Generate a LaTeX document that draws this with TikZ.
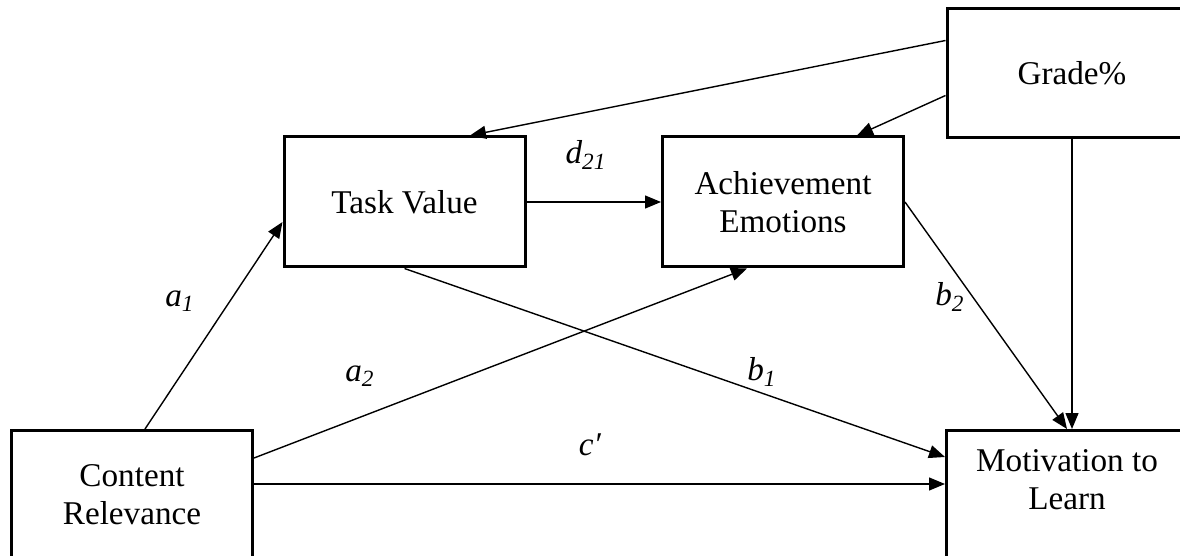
\documentclass[tikz,border=0pt]{standalone}
\usepackage{fontspec}
\setmainfont{Liberation Serif}
\usetikzlibrary{arrows.meta}
\newcommand{\pcoef}[2]{\textit{#1}\textsubscript{\textit{#2}}}

\begin{document}
\begin{tikzpicture}[x=0.5pt,y=-0.5pt,
  font=\fontsize{16.6}{18.8}\selectfont,
  box/.style={draw, line width=1.5pt, minimum width=120.5pt, minimum height=65pt, align=center},
  openbox/.style={box, anchor=north, text depth=60pt},
  link/.style={draw, line width=0.7pt, -{Triangle[length=8pt,width=6.5pt]}}]
  \useasboundingbox (0,0) rectangle (1180,556);
  \node[box] (tv) at (404.5,202) {Task Value};
  \node[box] (ae) at (783,202) {Achievement\\Emotions};
  \node[box, minimum width=125pt, minimum height=64.5pt] (gr) at (1072,73.5) {Grade\%};
  \node[openbox, inner ysep=17pt] (cr) at (132,429) {Content\\Relevance};
  \node[openbox, inner ysep=9.5pt] (mot) at (1067,429) {Motivation to\\Learn};
  \draw[link] ([xshift=6.5pt]cr.north) -- ([yshift=-10pt]tv.west);
  \draw[link] ([yshift=-14.5pt]cr.north east) -- ([xshift=-18pt]ae.south);
  \draw[link] ([yshift=-27.5pt]cr.north east) -- ([yshift=-27.5pt]mot.north west);
  \draw[link] (tv.east) -- (ae.west);
  \draw[link] (tv.south) -- ([yshift=-14pt]mot.north west);
  \draw[link] (ae.east) -- (mot.north);
  \draw[link] ([yshift=-16.5pt]gr.north west) -- ([xshift=32.75pt]tv.north);
  \draw[link] ([yshift=-44pt]gr.north west) -- ([xshift=37pt]ae.north);
  \draw[link] (gr.south) -- (gr.south |- mot.north);
  \node (la1) at (180,301) {\pcoef{a}{1}};
  \node (la2) at (360,376) {\pcoef{a}{2}};
  \node (lb1) at (762,372) {\pcoef{b}{1}};
  \node (lb2) at (950,297) {\pcoef{b}{2}};
  \node (lc) at (590,445) {\textit{c′}};
  \node (ld) at (586,155) {\pcoef{d}{21}};
\end{tikzpicture}
\end{document}
